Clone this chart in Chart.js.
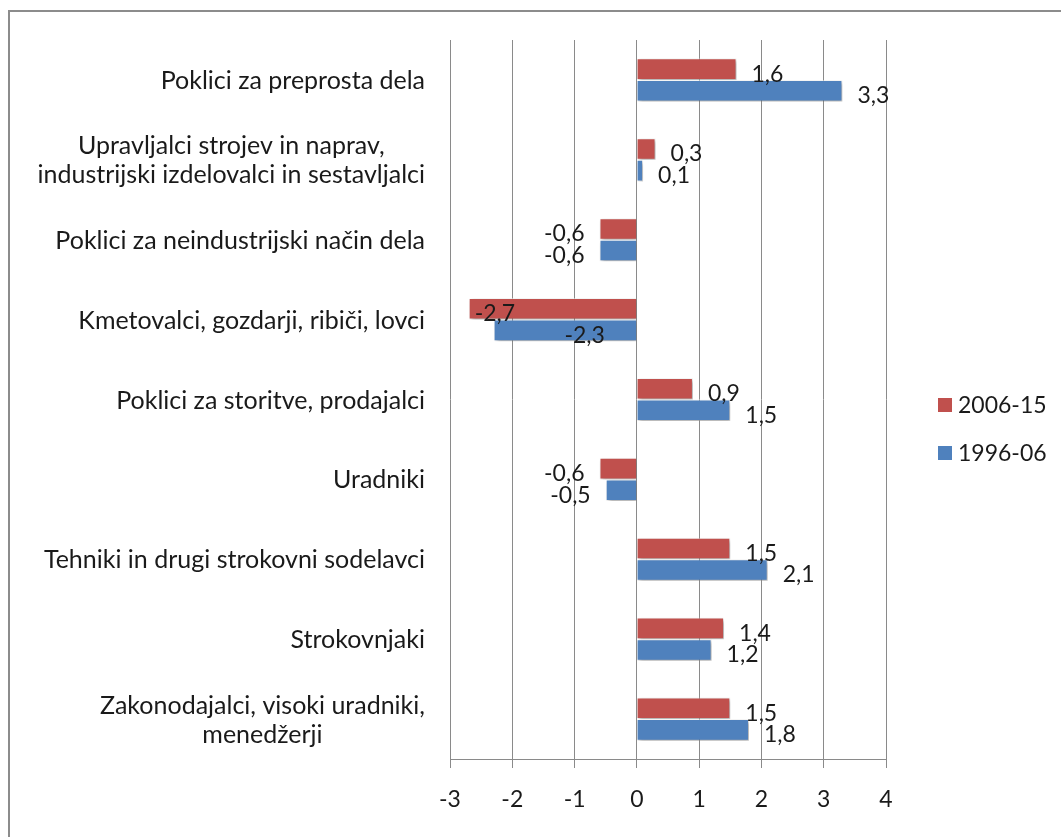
<!DOCTYPE html>
<html>
<head>
<meta charset="utf-8">
<script src="https://cdn.jsdelivr.net/npm/chart.js@4.4.1/dist/chart.umd.min.js"></script>
<style>
  html, body { margin: 0; padding: 0; background: #fff; overflow: hidden; }
  #wrap { position: absolute; left: 0; top: 0; width: 1061px; height: 837px; }
  #frame { position: absolute; left: 8px; top: 10px; width: 1100px; height: 900px; border: 2px solid #8c8c8c; box-sizing: border-box; }
  canvas { position: absolute; left: 0; top: 0; }
</style>
</head>
<body>
<div id="wrap">
  <div id="frame"></div>
  <canvas id="c" width="1061" height="837"></canvas>
</div>
<script>
const categories = [
  ["Poklici za preprosta dela"],
  ["Upravljalci strojev in naprav,", "industrijski izdelovalci in sestavljalci"],
  ["Poklici za neindustrijski način dela"],
  ["Kmetovalci, gozdarji, ribiči, lovci"],
  ["Poklici za storitve, prodajalci"],
  ["Uradniki"],
  ["Tehniki in drugi strokovni sodelavci"],
  ["Strokovnjaki"],
  ["Zakonodajalci, visoki uradniki,", "menedžerji"]
];
const series2006_15 = [1.6, 0.3, -0.6, -2.7, 0.9, -0.6, 1.5, 1.4, 1.5];
const series1996_06 = [3.3, 0.1, -0.6, -2.3, 1.5, -0.5, 2.1, 1.2, 1.8];
const seriesNames = ["2006-15", "1996-06"];
const xTicks = [-3, -2, -1, 0, 1, 2, 3, 4];

const FONT = "Lato";
const TEXT = "#1a1a1a";

const shadowPlugin = {
  id: 'shadow',
  beforeDatasetsDraw(chart) {
    const ctx = chart.ctx;
    ctx.save();
    ctx.shadowColor = 'rgba(0,0,0,0.35)';
    ctx.shadowBlur = 4;
    ctx.shadowOffsetX = 2;
    ctx.shadowOffsetY = 2;
  },
  afterDatasetsDraw(chart) {
    chart.ctx.restore();
  }
};

const labelPlugin = {
  id: 'labels',
  afterDatasetsDraw(chart) {
    const ctx = chart.ctx;
    const xs = chart.scales.x;
    ctx.save();
    ctx.font = `23px ${FONT}`;
    ctx.fillStyle = TEXT;
    ctx.textBaseline = 'middle';
    chart.data.datasets.forEach((ds, di) => {
      const meta = chart.getDatasetMeta(di);
      meta.data.forEach((bar, i) => {
        const v = ds.data[i];
        const txt = String(v).replace('.', ',');
        const y = bar.y + 5;
        if (v >= 0) {
          ctx.textAlign = 'left';
          ctx.fillText(txt, bar.x + 15, y);
        } else if (v > -2) {
          ctx.textAlign = 'right';
          ctx.fillText(txt, bar.x - 15, y);
        } else {
          if (di === 0) {
            ctx.textAlign = 'left';
            ctx.fillText(txt, bar.x + 6, y);
          } else {
            ctx.textAlign = 'right';
            ctx.fillText(txt, xs.getPixelForValue(0) - 32, y);
          }
        }
      });
    });
    ctx.restore();
  }
};

const yLabelPlugin = {
  id: 'ylabels',
  afterDraw(chart) {
    const ctx = chart.ctx;
    const ys = chart.scales.y;
    ctx.save();
    ctx.font = `25px ${FONT}`;
    ctx.fillStyle = TEXT;
    ctx.textBaseline = 'middle';
    ctx.textAlign = 'center';
    const right = 425;
    const lh = 29;
    categories.forEach((lines, i) => {
      const cy = ys.getPixelForValue(i) + 1;
      const w = Math.max(...lines.map(l => ctx.measureText(l).width));
      const cx = right - w / 2;
      lines.forEach((l, k) => {
        ctx.fillText(l, cx, cy + (k - (lines.length - 1) / 2) * lh);
      });
    });
    ctx.restore();
  }
};

const legendPlugin = {
  id: 'customLegend',
  afterDraw(chart) {
    const ctx = chart.ctx;
    ctx.save();
    ctx.font = `23px ${FONT}`;
    ctx.textBaseline = 'middle';
    ctx.textAlign = 'left';
    chart.data.datasets.forEach((ds, di) => {
      const cy = 405 + di * 48;
      ctx.fillStyle = ds.backgroundColor;
      ctx.fillRect(938, cy - 7, 14, 14);
      ctx.fillStyle = TEXT;
      ctx.fillText(ds.label, 958, cy + 1);
    });
    ctx.restore();
  }
};

new Chart(document.getElementById('c'), {
  type: 'bar',
  data: {
    labels: categories.map(c => c.join(' ')),
    datasets: [
      { label: seriesNames[0], data: series2006_15, backgroundColor: '#C0504D', borderColor: 'rgba(255,255,255,0.5)', borderWidth: 1 },
      { label: seriesNames[1], data: series1996_06, backgroundColor: '#4F81BD', borderColor: 'rgba(255,255,255,0.5)', borderWidth: 1 }
    ]
  },
  options: {
    indexAxis: 'y',
    responsive: false,
    animation: false,
    devicePixelRatio: 1,
    layout: { padding: { left: 450, right: 175, top: 40, bottom: 0 } },
    datasets: { bar: { barPercentage: 1.0, categoryPercentage: 0.54 } },
    plugins: { legend: { display: false }, tooltip: { enabled: false } },
    scales: {
      x: {
        min: -3, max: 4,
        afterBuildTicks(scale) { scale.ticks = xTicks.map(v => ({ value: v })); },
        afterFit(scale) { scale.height = 78; },
        grid: { color: '#8a8a8a', lineWidth: 1, drawTicks: true, tickLength: 9, tickColor: '#8a8a8a' },
        border: { display: true, color: '#8a8a8a' },
        ticks: { font: { family: FONT, size: 23 }, color: TEXT, padding: 18, callback: v => String(v) }
      },
      y: {
        grid: { display: false },
        border: { display: false },
        ticks: { display: false },
        afterFit(scale) { scale.width = 0; }
      }
    }
  },
  plugins: [shadowPlugin, labelPlugin, yLabelPlugin, legendPlugin]
});
</script>
</body>
</html>
